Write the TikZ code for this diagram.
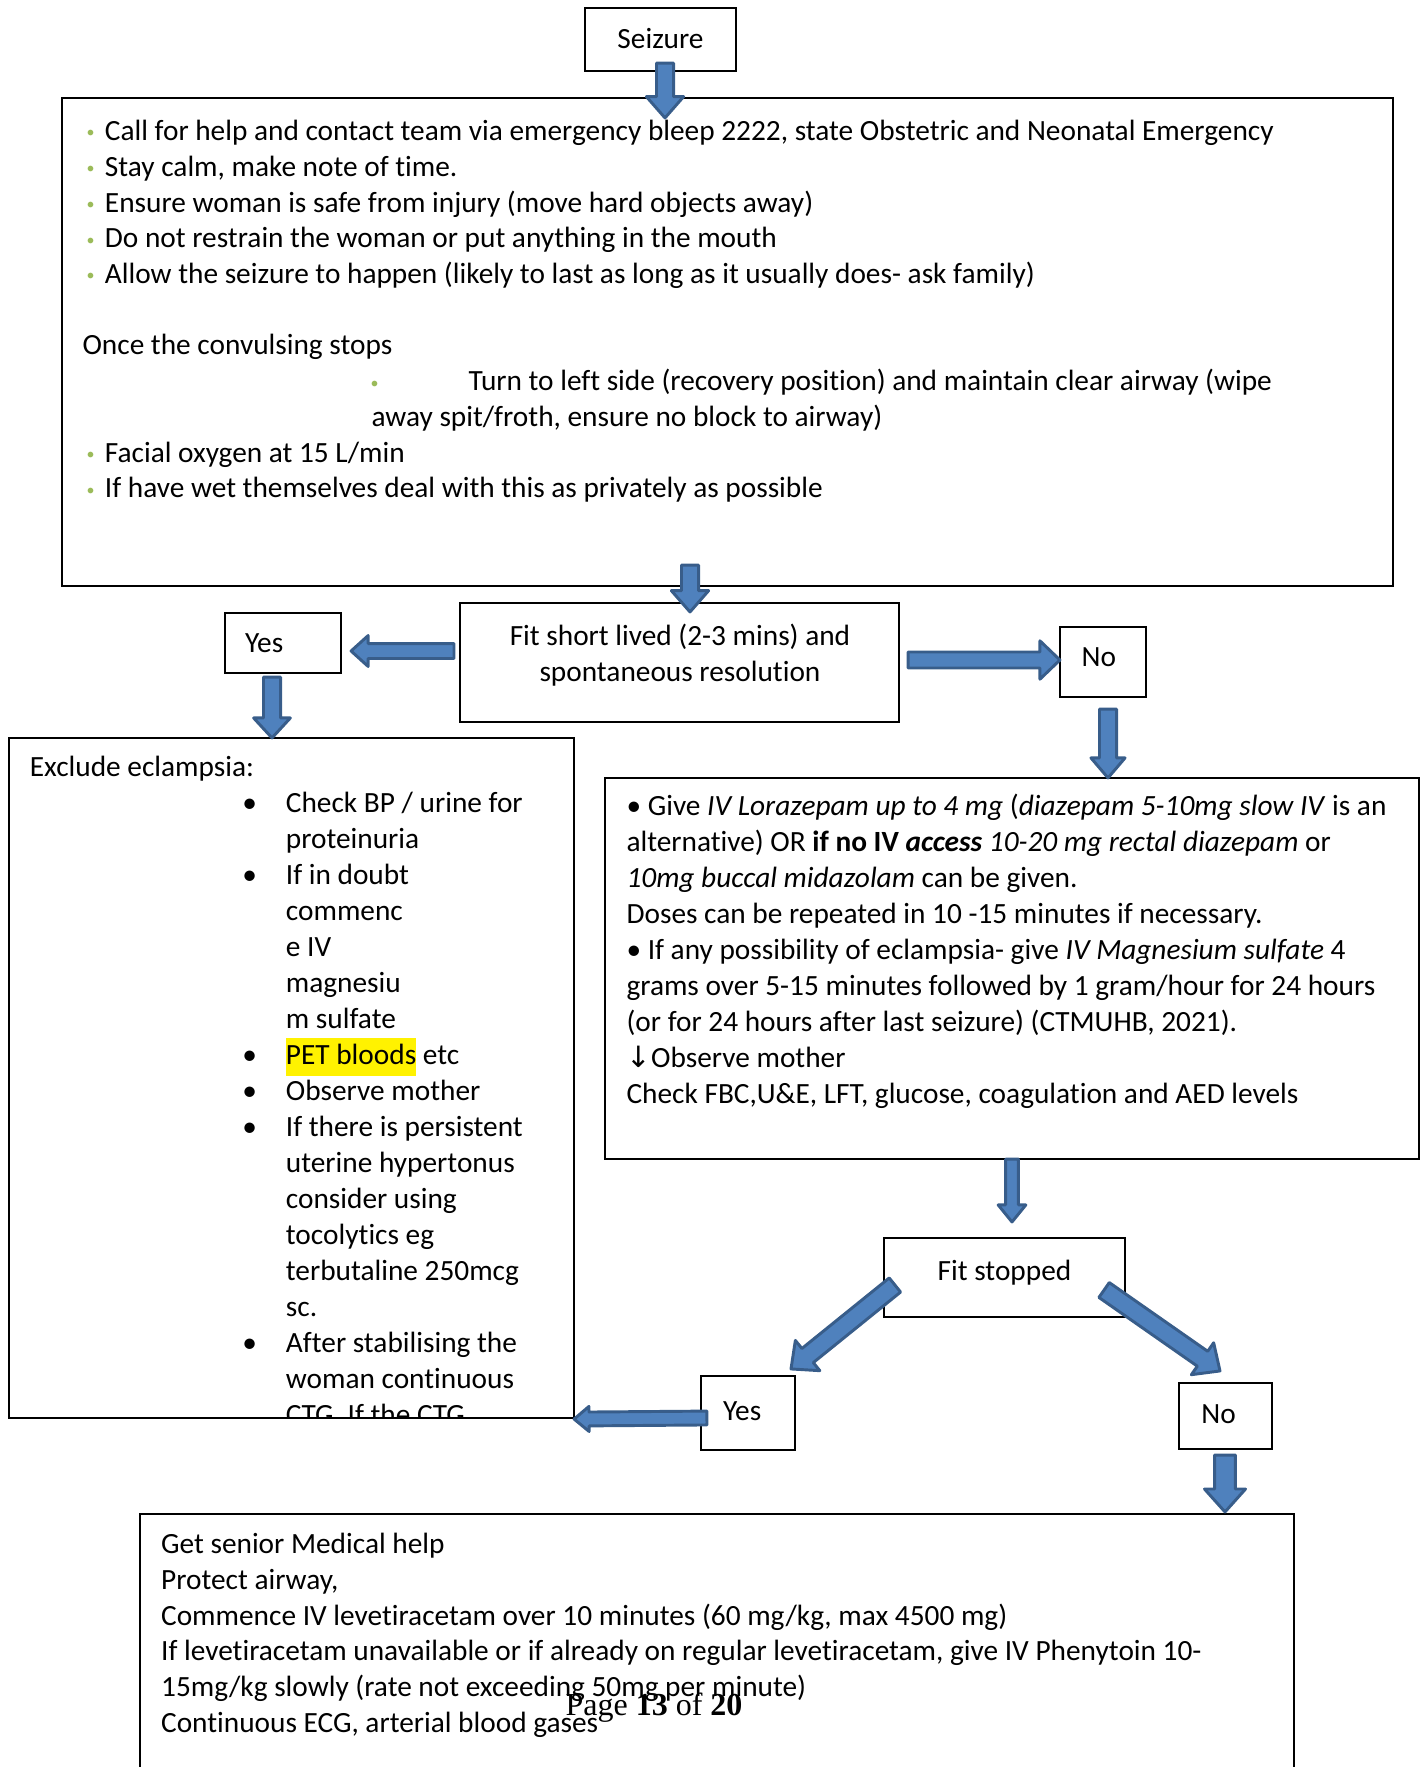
\documentclass[tikz,border=0pt]{standalone}
\usepackage{fontspec}
\setmainfont{Carlito}[Ligatures=NoCommon]
\newfontfamily\timesfont{Liberation Serif}
\newfontfamily\arrowfont{DejaVu Sans}
\usetikzlibrary{calc}
\definecolor{arrowfill}{HTML}{4F81BD}
\definecolor{arrowedge}{HTML}{385D8A}
\definecolor{dotgreen}{HTML}{9BBB59}
\newcommand\gdotglyph{\raisebox{1pt}{\textcolor{dotgreen}{\fontsize{6}{6}\selectfont\textbullet}}}
\newcommand\gdot{\makebox[8.4pt][l]{\hspace{1.5pt}\gdotglyph}}
\newcommand\xb{\hspace*{79.7pt}\makebox[16.3pt][l]{\textbullet}}
\newcommand\xin{\hspace*{96pt}}
\newcommand\hilite[1]{{\setlength\fboxsep{0pt}\colorbox{yellow}{\rule[-4.1pt]{0pt}{14.2pt}#1}}}
% block arrow: from, to, half shaft, half head, head length
\newcommand\blockarrow[5]{%
  \filldraw[barrow] ($(#1)!#3!90:(#2)$) -- ($(#2)!#5!(#1)!#3!-90:(#1)$)
    -- ($(#2)!#5!(#1)!#4!-90:(#1)$) -- (#2) -- ($(#2)!#5!(#1)!#4!90:(#1)$)
    -- ($(#2)!#5!(#1)!#3!90:(#1)$) -- ($(#1)!#3!-90:(#2)$) -- cycle;}
\begin{document}
\begin{tikzpicture}[x=0.375pt, y=-0.375pt, font=\fontsize{11}{13.4}\selectfont,
  box/.style={draw, line width=0.8pt, inner sep=0pt},
  padbox/.style={box, align=left, inner xsep=#1},
  txt/.style={inner sep=0pt, align=left, anchor=north west},
  wide/.style={font=\fontsize{11}{13.5}\selectfont},
  barrow/.style={fill=arrowfill, draw=arrowedge, line width=1.1pt, line join=round}]
\useasboundingbox (0,0) rectangle (1420,1767);
\node[box, minimum width=56.6pt, minimum height=23.6pt, text depth=0.8pt] (seizure) at (660.5,39.5) {Seizure};
\node[box, minimum width=499.1pt, minimum height=183pt] (steps) at (727.5,342) {};
\node[txt] (stepstext) at (82,115) {\strut\gdot Call for help and contact team via emergency bleep 2222, state Obstetric and Neonatal Emergency\\
\gdot Stay calm, make note of time.\\
\gdot Ensure woman is safe from injury (move hard objects away)\\
\gdot Do not restrain the woman or put anything in the mouth\\
\gdot Allow the seizure to happen (likely to last as long as it usually does- ask family)\\[13.4pt]
Once the convulsing stops\\
\hspace*{108pt}\makebox[36.75pt][l]{\gdotglyph}Turn to left side (recovery position) and maintain clear airway (wipe\\
\hspace*{108.4pt}away spit/froth, ensure no block to airway)\\
\gdot Facial oxygen at 15 L/min\\
\gdot If have wet themselves deal with this as privately as possible};
\node[box, minimum width=164.6pt, minimum height=44.6pt] (fitshort) at (679.5,662.5) {};
\node[txt, align=center, anchor=north] (fitshorttext) at (680,620) {\strut Fit short lived (2-3 mins) and\\spontaneous resolution};
\node[padbox=7.5pt, minimum height=22.5pt, text width=28.5pt] (yes1) at (283,643) {Yes};
\node[padbox=8.1pt, minimum height=26.25pt, text width=16.05pt, text depth=3.4pt] (no1) at (1103,662) {No};
\begin{scope}
\clip (9,738) rectangle (574,1418);
\node[txt, wide] (excludetext) at (29.4,751) {\strut Exclude eclampsia:\\
\xb Check BP / urine for\\
\xin proteinuria\\
\xb If in doubt\\
\xin commenc\\
\xin e IV\\
\xin magnesiu\\
\xin m sulfate\\
\xb \hilite{PET bloods} etc\\
\xb Observe mother\\
\xb If there is persistent\\
\xin uterine hypertonus\\
\xin consider using\\
\xin tocolytics eg\\
\xin terbutaline 250mcg\\
\xin sc.\\
\xb After stabilising the\\
\xin woman continuous\\
\xin CTG. If the CTG};
\end{scope}
\node[box, minimum width=211.9pt, minimum height=255pt] (exclude) at (291.5,1078) {};
\node[box, minimum width=305.25pt, minimum height=142.9pt] (give) at (1012,968.5) {};
\node[txt, wide] (givetext) at (626,790) {\strut • Give \textit{IV Lorazepam up to 4 mg} (\textit{diazepam 5-10mg slow IV} is an\\
alternative) OR \textbf{if no IV \textit{access}} \textit{10-20 mg rectal diazepam} or\\
\textit{10mg buccal midazolam} can be given.\\
Doses can be repeated in 10 -15 minutes if necessary.\\
• If any possibility of eclampsia- give \textit{IV Magnesium sulfate} 4\\
grams over 5-15 minutes followed by 1 gram/hour for 24 hours\\
(or for 24 hours after last seizure) (CTMUHB, 2021).\\
{\arrowfont ↓}Observe mother\\
Check FBC,U\&E, LFT, glucose, coagulation and AED levels};
\node[box, minimum width=90.4pt, minimum height=29.6pt, text depth=5.7pt] (fitstop) at (1004.5,1277.5) {Fit stopped};
\node[padbox=8.25pt, minimum height=27.75pt, text width=18.75pt, text depth=1.7pt] (yes2) at (748,1413) {Yes};
\node[padbox=8.4pt, minimum height=24.75pt, text width=18.1pt, text depth=1.7pt] (no2) at (1225.5,1416) {No};
\node[box, minimum width=432.75pt, minimum height=107.25pt] (senior) at (717,1657) {};
\node[txt] (seniortext) at (160.6,1528) {\strut Get senior Medical help\\
Protect airway,\\
Commence IV levetiracetam over 10 minutes (60 mg/kg, max 4500 mg)\\
If levetiracetam unavailable or if already on regular levetiracetam, give IV Phenytoin 10-\\
15mg/kg slowly (rate not exceeding 50mg per minute)\\
Continuous ECG, arterial blood gases};
\node[inner sep=0pt, anchor=base, font=\timesfont\fontsize{12}{14}\selectfont] (pagenum) at (654,1715) {Page \textbf{13} of \textbf{20}};
\coordinate (a1) at ([shift={(4.5,-9)}]seizure.south);
\coordinate (a1e) at ($(a1 |- steps.north)+(0,21)$);
\coordinate (a2) at ([shift={(-37.5,-22)}]steps.south);
\coordinate (a2e) at ($(a2 |- fitshort.north)+(0,10)$);
\coordinate (a3) at ([shift={(-5,-11.5)}]fitshort.west);
\coordinate (a3e) at ($(a3 -| yes1.east)+(9,0)$);
\coordinate (a4) at ([shift={(-11,3)}]yes1.south);
\coordinate (a4e) at ($(a4 |- exclude.north)+(0,1)$);
\coordinate (a5) at ([shift={(8,-2.5)}]fitshort.east);
\coordinate (a5e) at ($(a5 -| no1.west)+(1,0)$);
\coordinate (a6) at ([shift={(5,11)}]no1.south);
\coordinate (a6e) at ($(a6 |- give.north)+(0,1)$);
\coordinate (a7) at ([shift={(0,-1)}]give.south);
\coordinate (a7e) at ($(a7 |- fitstop.north)+(0,-15)$);
\coordinate (a8) at ([shift={(12,7.5)}]fitstop.west);
\coordinate (a8e) at ([shift={(43,-6)}]yes2.north);
\coordinate (a9) at ([shift={(-22,12.5)}]fitstop.east);
\coordinate (a9e) at ([shift={(-5.5,-11)}]no2.north);
\coordinate (a10) at ([shift={(7,5)}]yes2.west);
\coordinate (a10e) at ([shift={(-1,0)}]exclude.south east);
\coordinate (a11) at ([shift={(-0.5,5)}]no2.south);
\coordinate (a11e) at ($(a11 |- senior.north)+(0,-1)$);
\blockarrow{a1}{a1e}{3.2pt}{7pt}{8pt}
\blockarrow{a2}{a2e}{3.2pt}{7pt}{8pt}
\blockarrow{a3}{a3e}{2.8pt}{5.8pt}{6.4pt}
\blockarrow{a4}{a4e}{3.2pt}{6.9pt}{7.5pt}
\blockarrow{a5}{a5e}{3pt}{7.2pt}{7.5pt}
\blockarrow{a6}{a6e}{3.2pt}{6.4pt}{7.5pt}
\blockarrow{a7}{a7e}{2.4pt}{5.2pt}{6.4pt}
\blockarrow{a8}{a8e}{3.4pt}{7.3pt}{8pt}
\blockarrow{a9}{a9e}{3.4pt}{7.3pt}{8pt}
\blockarrow{a10}{a10e}{2.6pt}{4.7pt}{5.6pt}
\blockarrow{a11}{a11e}{3.9pt}{7.7pt}{8.6pt}
\end{tikzpicture}
\end{document}
